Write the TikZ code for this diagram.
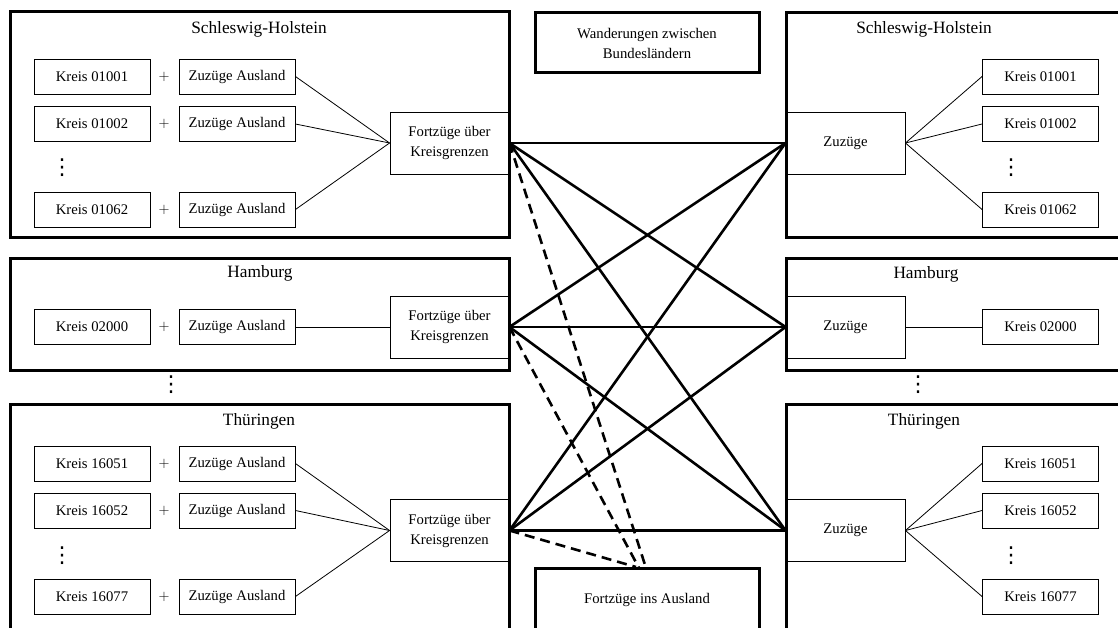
\documentclass[tikz,border=0pt]{standalone}
\usepackage{fontspec}
\setmainfont{Liberation Serif}
\newfontfamily\dvsans{DejaVu Sans}
\begin{document}
\begin{tikzpicture}[x=1pt,y=-1pt,
  bigb/.style={draw,line width=3pt},
  heavy/.style={line width=2.6pt},
  dashl/.style={line width=2.6pt,dash pattern=on 10pt off 6pt},
  thinl/.style={line width=0.8pt},
  smallf/.style={font=\fontsize{14.7}{20}\selectfont},
  titlef/.style={font=\fontsize{17.3}{21}\selectfont,inner sep=0pt},
  kbox/.style={draw,line width=0.9pt,inner sep=0pt,minimum width=116pt,minimum height=35pt,smallf},
  fbox/.style={draw,line width=0.9pt,inner sep=0pt,minimum width=119pt,minimum height=62pt,align=center,smallf},
  plusn/.style={inner sep=0pt,font=\fontsize{15.5}{20}\selectfont},
  dotn/.style={inner sep=0pt,font=\dvsans\fontsize{22}{24}\selectfont},
  wbox/.style={draw,line width=3pt,inner sep=0pt,minimum width=224pt,align=center,smallf}]
\clip (0,0) rectangle (1118,628);
% big container boxes
\draw[bigb] (10,12) rectangle (509,238);
\draw[bigb] (10,258) rectangle (509,370);
\draw[bigb] (10,404) rectangle (509,640);
\draw[bigb] (786,13) rectangle (1130,238);
\draw[bigb] (786,258) rectangle (1130,370);
\draw[bigb] (786,404) rectangle (1130,640);
% titles
\node[titlef] (tsh) at (259,29) {Schleswig-Holstein};
\node[titlef] (thh) at (260,273) {Hamburg};
\node[titlef] (tth) at (259,421) {Thüringen};
\node[titlef] (rtsh) at (924,29) {Schleswig-Holstein};
\node[titlef] (rthh) at (926,274) {Hamburg};
\node[titlef] (rtth) at (924,421) {Thüringen};
% middle boxes
\node[wbox,minimum height=60pt] (wan) at (647,43) {Wanderungen zwischen\\Bundesländern};
\node[wbox,minimum height=64pt] (aus) at (647,600) {Fortzüge ins Ausland};
% ---------- left Schleswig-Holstein
\node[kbox] (k1) at (92,76.5) {Kreis 01001};
\node[kbox] (k2) at (92,124) {Kreis 01002};
\node[kbox] (k3) at (92,209.5) {Kreis 01062};
\node[plusn] (p1) at (164,76.5) {$+$};
\node[plusn] (p2) at (164,124) {$+$};
\node[plusn] (p3) at (164,209.5) {$+$};
\node[kbox] (z1) at (237,76.5) {Zuzüge Ausland};
\node[kbox] (z2) at (237,124) {Zuzüge Ausland};
\node[kbox] (z3) at (237,209.5) {Zuzüge Ausland};
\node[dotn] (d1) at (62,168) {⋮};
\node[fbox] (fsh) at (449.5,143) {Fortzüge über\\Kreisgrenzen};
\draw[thinl] (z1.east) -- (fsh.west);
\draw[thinl] (z2.east) -- (fsh.west);
\draw[thinl] (z3.east) -- (fsh.west);
% ---------- left Hamburg
\node[kbox] (k4) at (92,327) {Kreis 02000};
\node[plusn] (p4) at (164,327) {$+$};
\node[kbox] (z4) at (237,327) {Zuzüge Ausland};
\node[fbox] (fhh) at (449.5,327) {Fortzüge über\\Kreisgrenzen};
\draw[thinl] (z4.east) -- (fhh.west);
\node[dotn] (d2) at (171,385) {⋮};
% ---------- left Thueringen
\node[kbox] (k5) at (92,463.5) {Kreis 16051};
\node[kbox] (k6) at (92,510.5) {Kreis 16052};
\node[kbox] (k7) at (92,596.5) {Kreis 16077};
\node[plusn] (p5) at (164,463.5) {$+$};
\node[plusn] (p6) at (164,510.5) {$+$};
\node[plusn] (p7) at (164,596.5) {$+$};
\node[kbox] (z5) at (237,463.5) {Zuzüge Ausland};
\node[kbox] (z6) at (237,510.5) {Zuzüge Ausland};
\node[kbox] (z7) at (237,596.5) {Zuzüge Ausland};
\node[dotn] (d3) at (62,556) {⋮};
\node[fbox] (fth) at (449.5,530.5) {Fortzüge über\\Kreisgrenzen};
\draw[thinl] (z5.east) -- (fth.west);
\draw[thinl] (z6.east) -- (fth.west);
\draw[thinl] (z7.east) -- (fth.west);
% ---------- right Schleswig-Holstein
\node[fbox] (rsh) at (845.5,143) {Zuzüge};
\node[kbox] (r1) at (1040.5,76.5) {Kreis 01001};
\node[kbox] (r2) at (1040.5,124) {Kreis 01002};
\node[kbox] (r3) at (1040.5,209.5) {Kreis 01062};
\node[dotn] (d4) at (1011,168) {⋮};
\draw[thinl] (rsh.east) -- (r1.west);
\draw[thinl] (rsh.east) -- (r2.west);
\draw[thinl] (rsh.east) -- (r3.west);
% ---------- right Hamburg
\node[fbox] (rhh) at (845.5,327) {Zuzüge};
\node[kbox] (r4) at (1040.5,327) {Kreis 02000};
\draw[thinl] (rhh.east) -- (r4.west);
\node[dotn] (d5) at (918,385) {⋮};
% ---------- right Thueringen
\node[fbox] (rth) at (845.5,530.5) {Zuzüge};
\node[kbox] (r5) at (1040.5,463.5) {Kreis 16051};
\node[kbox] (r6) at (1040.5,510.5) {Kreis 16052};
\node[kbox] (r7) at (1040.5,596.5) {Kreis 16077};
\node[dotn] (d6) at (1011,556) {⋮};
\draw[thinl] (rth.east) -- (r5.west);
\draw[thinl] (rth.east) -- (r6.west);
\draw[thinl] (rth.east) -- (r7.west);
% ---------- migration between states
\foreach \a in {fsh,fhh,fth}{
  \foreach \b in {rsh,rhh,rth}{
    \draw[heavy] (\a.east) -- (\b.west);
  }
}
\coordinate (e1) at (646,568);
\coordinate (e2) at (639,568);
\coordinate (e3) at (636,567);
\draw[dashl] (fsh.east) -- (e1);
\draw[dashl] (fhh.east) -- (e2);
\draw[dashl] (fth.east) -- (e3);
\end{tikzpicture}
\end{document}
